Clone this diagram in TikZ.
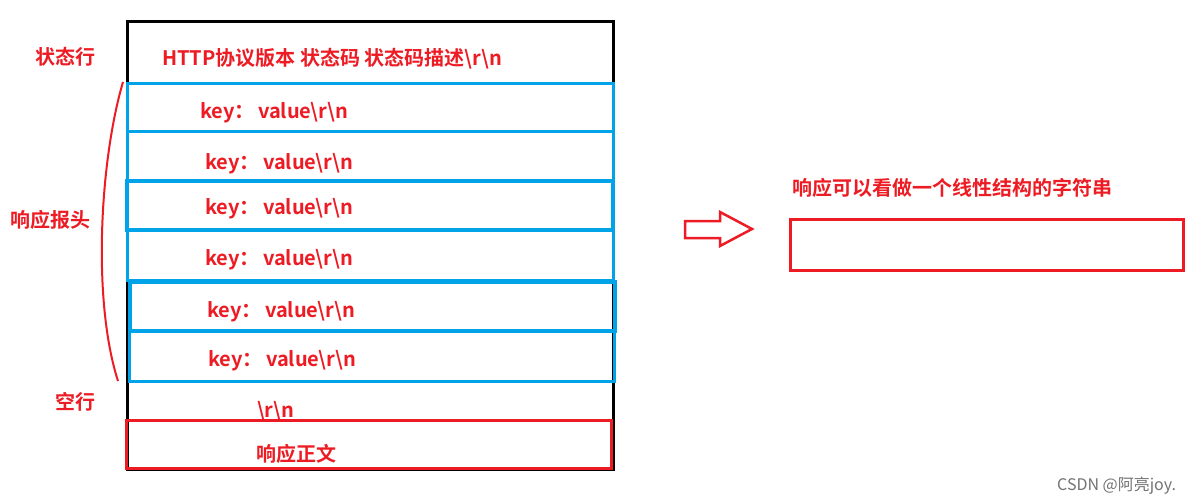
\documentclass[tikz,border=0pt]{standalone}
\usepackage{fontspec}
\setmainfont{Noto Sans CJK SC}[BoldFont={Noto Sans CJK SC Bold}]
\newfontfamily\cjkb{Noto Sans CJK SC Bold}
\definecolor{pred}{HTML}{ED1C24}
\definecolor{pblue}{HTML}{00A2E8}
\begin{document}
\begin{tikzpicture}[x=1pt,y=-1pt,
  lbl/.style={text=pred,font=\cjkb\fontsize{20}{22}\selectfont,inner sep=0pt,anchor=west},
  bluebox/.style={draw=pblue,line width=3pt},
  blackline/.style={draw=black,line width=3pt},
  redbox/.style={draw=pred,line width=3pt}]
\useasboundingbox[fill=white] (0,0) rectangle (1188,503);
% outer black box
\draw[blackline] (127,22) rectangle (613,469);
% blue header boxes
\draw[bluebox] (127,83) rectangle (613,131);
\draw[bluebox] (127,131) rectangle (613,181);
\draw[bluebox,line width=3.5pt] (127,181) rectangle (613,230);
\draw[bluebox] (127,230) rectangle (613,280);
\draw[bluebox,line width=3.5pt] (130,282) rectangle (615,331);
\draw[bluebox] (129,331) rectangle (614,381);
% body box
\draw[redbox] (126,420) rectangle (611,468);
% texts in the box
\node[lbl] (status) at (162,59) {HTTP协议版本 状态码 状态码描述\textbackslash r\textbackslash n};
\node[lbl] (k1) at (200,113) {key：\,value\textbackslash r\textbackslash n};
\node[lbl] (k2) at (205,164) {key：\,value\textbackslash r\textbackslash n};
\node[lbl] (k3) at (205,209) {key：\,value\textbackslash r\textbackslash n};
\node[lbl] (k4) at (205,260) {key：\,value\textbackslash r\textbackslash n};
\node[lbl] (k5) at (207,312) {key：\,value\textbackslash r\textbackslash n};
\node[lbl] (k6) at (208,361) {key：\,value\textbackslash r\textbackslash n};
\node[lbl] (crlf) at (257,411) {\textbackslash r\textbackslash n};
\node[lbl] (body) at (256,454) {响应正文};
% left labels
\node[lbl,anchor=center] (lstatus) at (65,57) {状态行};
\node[lbl,anchor=center] (lheader) at (50,220) {响应报头};
\node[lbl,anchor=center] (lblank) at (75,402) {空行};
% brace
\draw[pred,line width=2pt] (123,82) .. controls (100,160) and (92,300) .. (118,381);
% block arrow
\draw[pred,line width=2.5pt,line join=miter] (685,221) -- (720,221) -- (720,212) -- (752,229) -- (720,246) -- (720,238) -- (685,238) -- cycle;
% right side
\node[lbl] (rtext) at (792,188) {响应可以看做一个线性结构的字符串};
\draw[redbox] (790,219) rectangle (1183,270);
% watermark
\node[text=black!55,font=\fontsize{16}{18}\selectfont,inner sep=0pt,anchor=west] (wm) at (1057,486) {CSDN @阿亮joy.};
\end{tikzpicture}
\end{document}
